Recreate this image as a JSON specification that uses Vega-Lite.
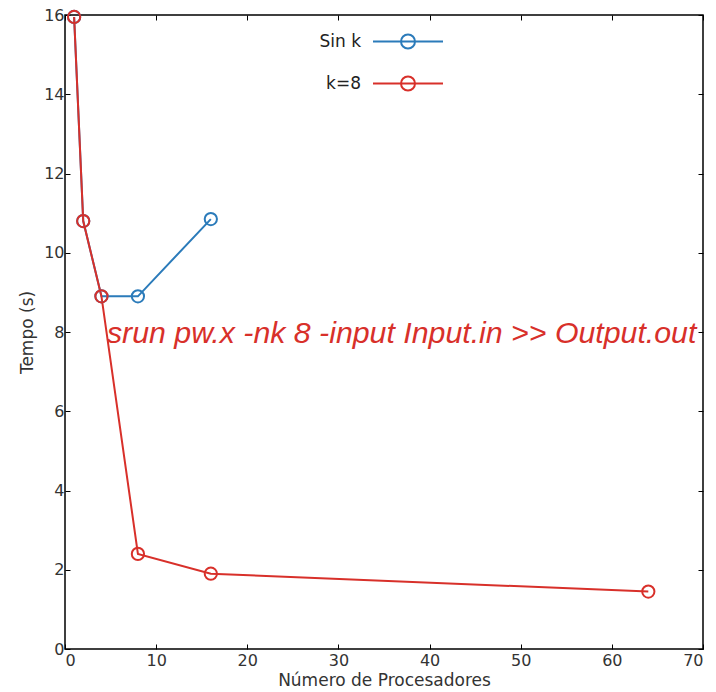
{
  "$schema": "https://vega.github.io/schema/vega-lite/v6.json",
  "width": 638,
  "height": 634,
  "autosize": "none",
  "padding": {"left": 65, "top": 15, "right": 13, "bottom": 43},
  "background": "white",
  "config": {
    "view": {"stroke": "black", "strokeWidth": 1.5},
    "font": "DejaVu Sans",
    "axis": {
      "grid": false,
      "domain": false,
      "tickColor": "black",
      "tickSize": -5,
      "tickWidth": 1,
      "labelFont": "DejaVu Sans",
      "labelFontSize": 16,
      "labelColor": "#333333",
      "titleFont": "DejaVu Sans",
      "titleFontSize": 17,
      "titleFontWeight": "normal",
      "titleColor": "#333333"
    },
    "legend": {
      "orient": "none",
      "legendX": 324.5,
      "legendY": 8,
      "padding": 0,
      "direction": "vertical",
      "symbolType": "M-2,0H2M-0.4,0A0.4,0.4 0 1,0 0.4,0A0.4,0.4 0 1,0 -0.4,0",
      "symbolSize": 1225,
      "symbolStrokeWidth": 2,
      "symbolFillColor": "transparent",
      "symbolOpacity": 1,
      "labelAlign": "right",
      "labelOffset": -65.5,
      "labelFont": "DejaVu Sans",
      "labelFontSize": 17,
      "labelColor": "#222222",
      "rowPadding": 12
    }
  },
  "datasets": {
    "runs": [
      {"series": "Sin k", "procs": 1, "time": 15.95},
      {"series": "Sin k", "procs": 2, "time": 10.8},
      {"series": "Sin k", "procs": 4, "time": 8.9},
      {"series": "Sin k", "procs": 8, "time": 8.9},
      {"series": "Sin k", "procs": 16, "time": 10.85},
      {"series": "k=8", "procs": 1, "time": 15.95},
      {"series": "k=8", "procs": 2, "time": 10.8},
      {"series": "k=8", "procs": 4, "time": 8.9},
      {"series": "k=8", "procs": 8, "time": 2.4},
      {"series": "k=8", "procs": 16, "time": 1.9},
      {"series": "k=8", "procs": 64, "time": 1.45}
    ],
    "note": [
      {"procs": 4.6, "time": 7.95, "label": "srun pw.x -nk 8 -input Input.in >> Output.out"}
    ]
  },
  "layer": [
    {
      "data": {"name": "runs"},
      "mark": {"type": "line", "strokeWidth": 2},
      "encoding": {
        "x": {
          "field": "procs", "type": "quantitative",
          "scale": {"domain": [0, 70], "nice": false, "zero": false},
          "axis": {"title": "Número de Procesadores", "values": [0,10,20,30,40,50,60,70], "labelPadding": 8, "titlePadding": 4}
        },
        "y": {
          "field": "time", "type": "quantitative",
          "scale": {"domain": [0, 16], "nice": false},
          "axis": {"title": "Tempo (s)", "values": [0,2,4,6,8,10,12,14,16], "labelPadding": 6, "titlePadding": 7}
        },
        "color": {
          "field": "series", "type": "nominal",
          "scale": {"domain": ["Sin k", "k=8"], "range": ["#2b7bba", "#d8302a"]},
          "legend": {"title": null}
        },
        "order": {"field": "procs", "type": "quantitative"}
      }
    },
    {
      "data": {"name": "runs"},
      "mark": {"type": "point", "shape": "circle", "filled": false, "size": 150, "strokeWidth": 2, "opacity": 1},
      "encoding": {
        "x": {"field": "procs", "type": "quantitative", "axis": null},
        "y": {"field": "time", "type": "quantitative", "axis": null},
        "color": {"field": "series", "type": "nominal", "legend": {"title": null}}
      }
    },
    {
      "data": {"name": "note"},
      "mark": {"type": "text", "align": "left", "baseline": "middle", "font": "Liberation Sans", "fontStyle": "italic", "fontSize": 30.3, "color": "#d8302a"},
      "encoding": {
        "x": {"field": "procs", "type": "quantitative", "axis": null},
        "y": {"field": "time", "type": "quantitative", "axis": null},
        "text": {"field": "label"}
      }
    },
    {
      "data": {"name": "note"},
      "mark": {"type": "point", "opacity": 0},
      "encoding": {
        "x": {"field": "procs", "type": "quantitative", "axis": {"orient": "top", "labels": false, "title": null, "values": [0,10,20,30,40,50,60,70]}},
        "y": {"field": "time", "type": "quantitative", "axis": {"orient": "right", "labels": false, "title": null, "values": [0,2,4,6,8,10,12,14,16]}}
      }
    }
  ],
  "resolve": {"axis": {"x": "independent", "y": "independent"}}
}
